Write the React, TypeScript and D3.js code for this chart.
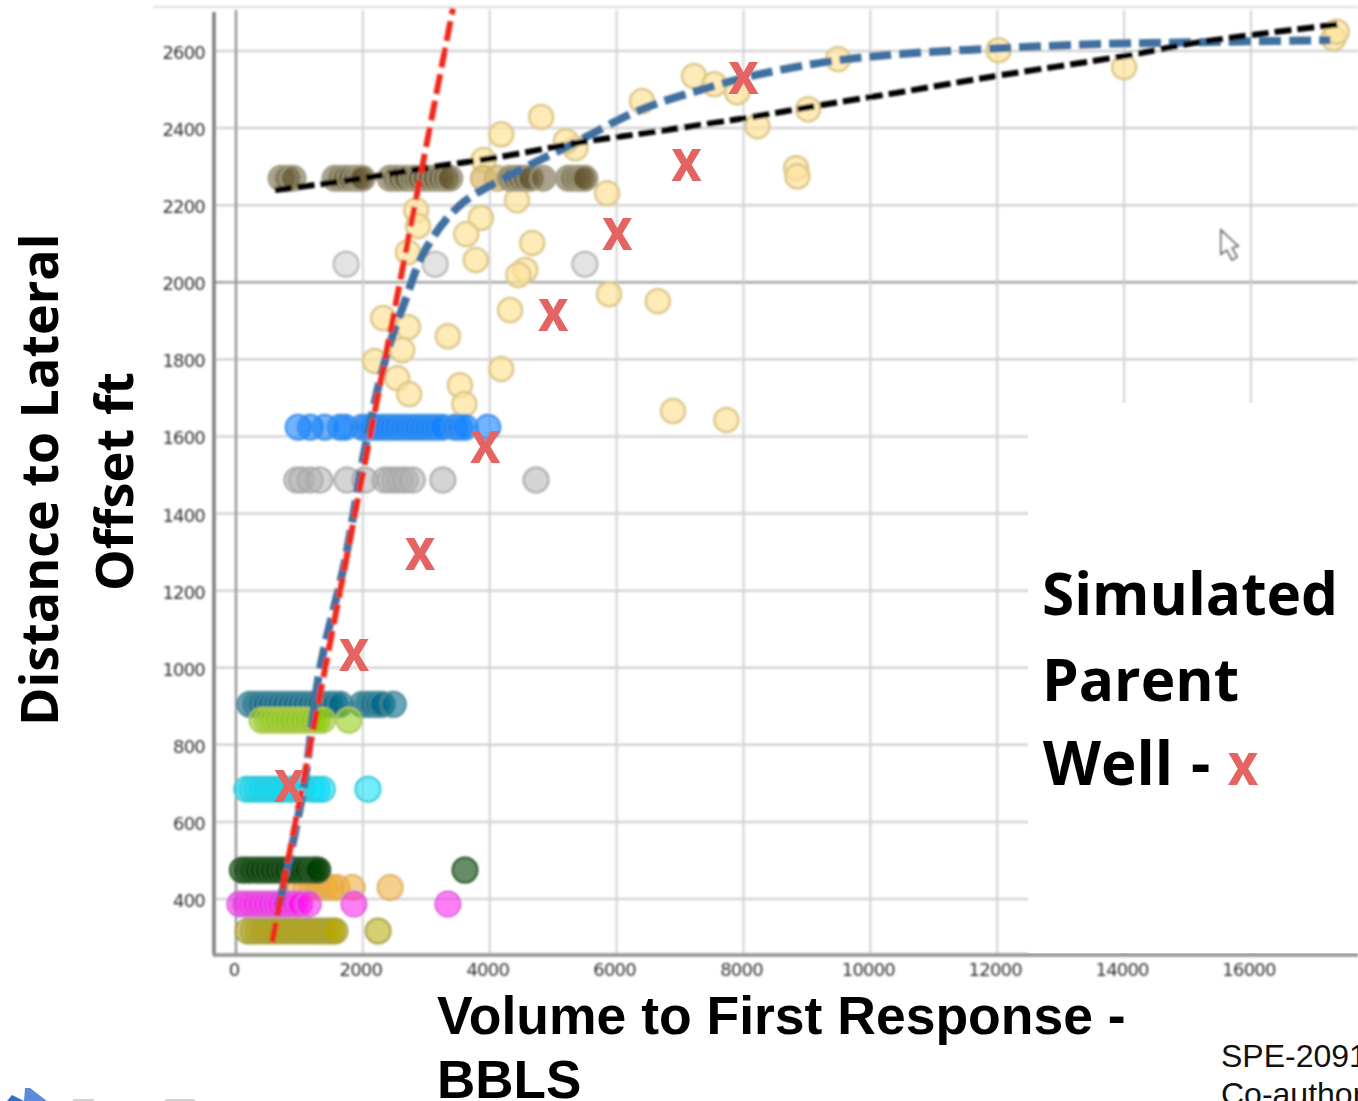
import React from "react";
import * as d3 from "d3";

const xTicks = [0, 2000, 4000, 6000, 8000, 10000, 12000, 14000, 16000];
const yTicks = [400, 600, 800, 1000, 1200, 1400, 1600, 1800, 2000, 2200, 2400, 2600];

const yellowX = [17300,14000,12020,9490,9020,8220,7220,7540,7900,6400,4810,4180,5350,5200,3900,5850,4430,3860,2840,2870,3630,3780,4670,4560,4450,2710,5880,6650,4320,2320,2710,3340,2620,2190,4180,2540,2730,3530,3600,6890,7730,8830,8850,17350];
const yellowY = [2633,2558,2602,2579,2449,2405,2535,2514,2493,2470,2429,2384,2348,2366,2317,2231,2213,2167,2187,2146,2125,2058,2102,2032,2019,2078,1969,1951,1928,1907,1884,1860,1824,1796,1775,1751,1710,1733,1684,1666,1643,2296,2275,2650];

const oliveX = [190,270,350,430,500,580,660,740,820,900,980,1060,1140,1220,1290,1370,1450,1510,1560,2240];
const orangeX = [1010,1100,1200,1300,1400,1500,1590,1830,2430];
const magentaX = [60,140,220,300,380,460,540,620,690,770,850,930,1000,1140,1860,3340];
const darkGreenX = [100,170,250,330,410,490,570,650,730,800,880,960,1040,1120,1200,1250,1290,3610];
const cyanX = [170,250,330,410,490,570,650,720,800,880,960,1040,1200,1280,1360,2080];
const limeX = [410,490,570,650,730,800,880,960,1040,1120,1200,1280,1360,1780];
const tealX = [220,300,380,460,540,620,690,770,850,930,1010,1090,1170,1250,1320,1400,1480,1560,1640,1990,2070,2150,2230,2300,2480];
const greyLowX = [960,1030,1170,1320,1750,2030,2350,2430,2510,2590,2670,2780,3260,4730];
const blueX = [980,1170,1400,1640,1720,1990,2070,2150,2230,2300,2380,2460,2540,2620,2700,2780,2850,2930,3010,3090,3170,3250,3450,3530,3610,3970];
const greyHighX = [1735,3140,5500];
const tanX = [3900,4120];
const brownX = [710,800,900,1560,1640,1720,1800,1880,1940,1990,2430,2510,2590,2680,2780,2840,2900,2980,3060,3140,3220,3300,3370,4320,4400,4480,4560,4640,4840,5240,5310,5390,5450,5500];

const redLineX = [570, 3420];
const redLineY = [288, 2711];
const blueLineX = [680,1060,1320,1720,2030,2350,2670,2980,3530,4320,5270,6370,7320,8260,9490,10470,12020,13620,15200,17250];
const blueLineY = [384,683,994,1279,1565,1798,1954,2083,2200,2278,2356,2447,2499,2540,2576,2592,2607,2618,2623,2628];
const blackLineX = [615,1800,2980,4160,5350,6530,8220,9020,10470,12050,14000,15200,17410];
const blackLineY = [2239,2265,2296,2325,2361,2389,2431,2454,2493,2537,2587,2623,2670];

const simX = [8000,7100,6010,5000,3930,2900,1860,840];
const simY = [2530,2304,2125,1915,1572,1295,1033,693];

const x = d3.scaleLinear().domain([0, 16000]).range([236, 1251]);
const y = d3.scaleLinear().domain([400, 2600]).range([899, 51]);

const rows: { xs: number[]; v: number; fill: string; stroke: string; op: number }[] = [
  { xs: oliveX, v: 317, fill: "#b5a500", stroke: "#a8a040", op: 0.55 },
  { xs: orangeX, v: 430, fill: "#f0a830", stroke: "#dcb060", op: 0.55 },
  { xs: magentaX, v: 387, fill: "#ff10f0", stroke: "#d860d8", op: 0.55 },
  { xs: darkGreenX, v: 475, fill: "#053f05", stroke: "#2a5a2a", op: 0.6 },
  { xs: tealX, v: 905, fill: "#006a88", stroke: "#4a8a9a", op: 0.6 },
  { xs: limeX, v: 864, fill: "#88cc08", stroke: "#b0c850", op: 0.55 },
  { xs: cyanX, v: 685, fill: "#08dcf8", stroke: "#30c8d8", op: 0.55 },
  { xs: greyLowX, v: 1487, fill: "#b0b0b0", stroke: "#a8a8a8", op: 0.55 },
  { xs: blueX, v: 1624, fill: "#0f80ff", stroke: "#3a90e8", op: 0.6 },
  { xs: greyHighX, v: 2047, fill: "#d0d0d0", stroke: "#b4b4b4", op: 0.6 },
  { xs: tanX, v: 2270, fill: "#d8b868", stroke: "#c8b070", op: 0.7 },
  { xs: brownX, v: 2270, fill: "#64562e", stroke: "#a09a80", op: 0.55 },
];

const line = d3.line<number>().curve(d3.curveCatmullRom);
const path = (xs: number[], ys: number[]) =>
  line.x((_, i) => x(xs[i])).y((_, i) => y(ys[i]))(xs) as string;

export default function App() {
  const sans = "'Open Sans', sans-serif";
  const arial = "'Liberation Sans', Arial, sans-serif";
  const red = "#e46464";
  return (
    <svg width={1358} height={1101} style={{ position: "absolute", left: 0, top: 0, display: "block", background: "#fff" }}>
      <defs>
        <filter id="soft" x="-5%" y="-5%" width="110%" height="110%"><feGaussianBlur stdDeviation="1.1" /></filter>
        <filter id="softer"><feGaussianBlur stdDeviation="0.6" /></filter>
        <clipPath id="plot"><rect x={214} y={8} width={1144} height={947} /></clipPath>
      </defs>
      <g filter="url(#soft)">
        <line x1={153} x2={1358} y1={7} y2={7} stroke="#e4e4e4" strokeWidth={2.5} />
        {yTicks.map(t => (
          <line key={t} x1={214} x2={1358} y1={y(t)} y2={y(t)} stroke={t === 2000 ? "#a4a4a4" : "#d4d4d4"} strokeWidth={2.5} />
        ))}
        {xTicks.map(t => (
          <line key={t} x1={x(t)} x2={x(t)} y1={10} y2={955} stroke={t === 0 ? "#989898" : "#d0d0d6"} strokeWidth={t === 0 ? 2.5 : 2} />
        ))}
        <line x1={214} x2={214} y1={12} y2={955} stroke="#7c7c7c" strokeWidth={3.5} />
        <line x1={213} x2={1358} y1={955} y2={955} stroke="#909090" strokeWidth={3.5} />
        {yTicks.map(t => (
          <text key={t} x={205} y={y(t) + 8} textAnchor="end" fontFamily="'DejaVu Sans', sans-serif" fontSize={18} letterSpacing={-0.8} fill="#333">{t}</text>
        ))}
        {xTicks.map(t => (
          <text key={t} x={x(t) - 2} y={976} textAnchor="middle" fontFamily="'DejaVu Sans', sans-serif" fontSize={18} letterSpacing={-0.8} fill="#333">{t}</text>
        ))}
        <g clipPath="url(#plot)">
          {yellowX.map((v, i) => (
            <circle key={i} cx={x(v)} cy={y(yellowY[i])} r={12} fill="#fde29a" fillOpacity={0.7} stroke="#dcc88c" strokeWidth={2.5} />
          ))}
          {rows.map((r, j) => r.xs.map((v, i) => (
            <circle key={j + "-" + i} cx={x(v)} cy={y(r.v)} r={12.5} fill={r.fill} fillOpacity={r.op} stroke={r.stroke} strokeWidth={2} />
          )))}
          <path d={path(blueLineX, blueLineY)} fill="none" stroke="#3f6f9f" strokeWidth={8} strokeDasharray="22 8" />
          <path d={path(blackLineX, blackLineY)} fill="none" stroke="#000" strokeWidth={6} strokeDasharray="17 6" />
          <path d={path(redLineX, redLineY)} fill="none" stroke="#ee2a1c" strokeWidth={6} strokeDasharray="20 7" />
        </g>
        <path d="M1221 230 L1221 254 L1227 250 L1232 260 L1237 257 L1232 248 L1238 246 Z" fill="#fff" stroke="#666" strokeWidth={1.8} />
      </g>
      <rect x={1028} y={403} width={330} height={550} fill="#fff" />
      {simX.map((v, i) => (
        <text key={i} transform={`translate(${x(v)},${y(simY[i]) + 16}) scale(0.88,1)`} textAnchor="middle" fontFamily={sans} fontWeight={700} fontSize={60} fill={red}>x</text>
      ))}
      <text x={1042} y={615} fontFamily={sans} fontWeight={700} fontSize={58.5} fill="#000">Simulated</text>
      <text x={1042} y={701} fontFamily={sans} fontWeight={700} fontSize={58.5} fill="#000">Parent</text>
      <text x={1043} y={785} fontFamily={sans} fontWeight={700} fontSize={60} fill="#000">Well</text>
      <text x={1191} y={785} fontFamily={sans} fontWeight={700} fontSize={60} fill="#000">-</text>
      <text transform="translate(1243,785) scale(0.88,1)" textAnchor="middle" fontFamily={sans} fontWeight={700} fontSize={60} fill={red}>x</text>
      <text transform="translate(58,726)rotate(-90)" fontFamily={sans} fontWeight={700} fontSize={52} fill="#000">Distance to Lateral</text>
      <text transform="translate(133,591)rotate(-90)" fontFamily={sans} fontWeight={700} fontSize={52.5} fill="#000">Offset ft</text>
      <text x={437} y={1034} fontFamily={arial} fontWeight={700} fontSize={53.5} fill="#000">Volume to First Response -</text>
      <text x={437} y={1098} fontFamily={arial} fontWeight={700} fontSize={53} fill="#000">BBLS</text>
      <text x={1221} y={1067} fontFamily={arial} fontSize={32} fill="#111">SPE-2091</text>
      <text x={1221} y={1105} fontFamily={arial} fontSize={32} fill="#111">Co-author</text>
      <g filter="url(#softer)">
        <path d="M7 1101 L12 1095 L24 1101 Z" fill="#2f6fd0" />
        <path d="M24 1101 L25 1088 L30 1088 L47 1101 Z" fill="#5b8bdc" />
        <rect x={73} y={1099} width={21} height={2} fill="#d4d4d4" />
        <rect x={165} y={1099} width={30} height={2} fill="#d4d4d4" />
      </g>
    </svg>
  );
}
